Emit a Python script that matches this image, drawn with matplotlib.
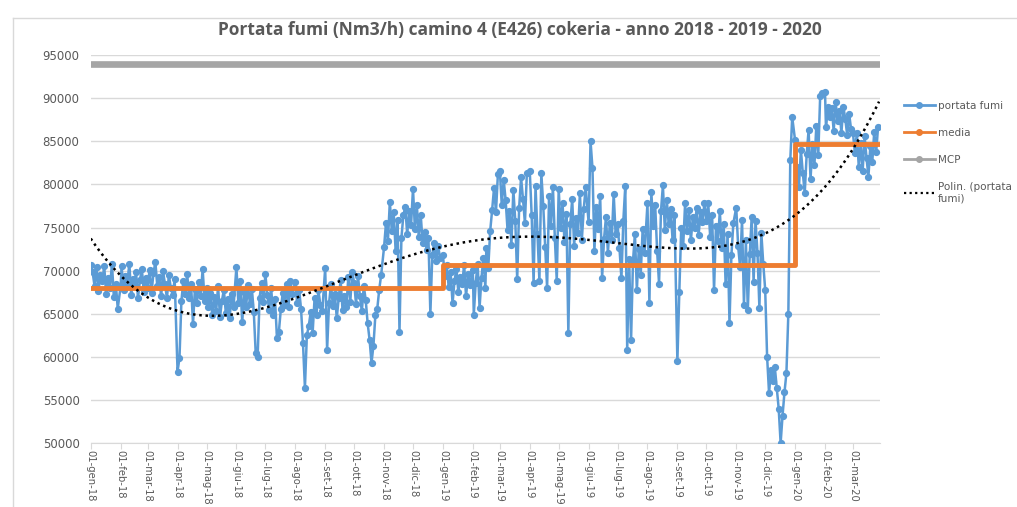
import numpy as np
import pandas as pd
import matplotlib

matplotlib.use("Agg")
import matplotlib.pyplot as plt
from matplotlib.lines import Line2D

MESI = ["gen", "feb", "mar", "apr", "mag", "giu", "lug", "ago", "set", "ott", "nov", "dic"]

# portata fumi (valori per mese, distribuiti nei giorni del mese)
portata_2018 = [
    [70600, 69800, 68200, 70400, 67600, 69500, 68800, 70500, 67300, 69200, 68000, 70800, 66900, 68500, 65600],
    [68200, 70500, 67800, 69400, 68600, 70800, 67200, 69000, 68300, 69800, 66800, 68900, 70200, 67500, 69200],
    [68000, 70100, 67400, 69700, 71000, 68200, 69300, 67000, 69900, 68400, 66800, 69500, 68000, 67200, 69000],
    [58300, 59900, 66500, 68800, 67300, 69600, 66800, 68400, 63800, 67900, 66200, 68700, 67000, 70200, 66500],
    [68000, 65800, 67400, 64800, 66900, 65300, 68200, 64600, 66500, 67800, 65100, 66700, 64500, 67300, 65800],
    [70400, 66300, 68800, 64000, 67500, 65800, 68300, 66100, 67900, 65200, 60400, 60000, 66800, 68600, 66400],
    [69600, 67200, 65400, 68000, 64800, 66700, 62200, 62900, 65500, 67400, 66000, 68500, 65800, 68800, 67300],
    [68700, 66200, 67800, 65500, 61600, 56400, 62500, 63600, 65200, 62800, 66800, 64900, 67700, 66000, 65300],
    [70300, 60800, 66200, 68400, 65900, 67300, 64500, 66800, 68900, 65400, 67000, 65800, 69300, 66400, 69800],
    [68600, 66100, 69400, 67000, 65300, 68200, 66600, 63900, 62000, 59300, 61300, 64800, 65600, 67800, 69500],
    [72700, 75500, 73400, 78000, 74600, 76800, 72300, 75900, 62900, 73800, 76400, 77400, 74200, 76900, 75300],
    [79500, 74800, 77600, 73900, 76500, 73200, 74500, 72400, 73800, 65000, 71800, 73200, 71100, 72900, 71500],
]
portata_2019 = [
    [71800, 69400, 70600, 68100, 69800, 66200, 68800, 70200, 67500, 69300, 68400, 70700, 67000, 69600, 68300],
    [70100, 64900, 68600, 70800, 65700, 69200, 71500, 68000, 72600, 70300, 74600, 77000, 79600, 76800, 81200],
    [81600, 77600, 80500, 78200, 74700, 76900, 73000, 79400, 75800, 69000, 77300, 80800, 78300, 75500, 81300],
    [81600, 76400, 68600, 79800, 74200, 68800, 81300, 77500, 72700, 68000, 78600, 75200, 79700, 73800, 68800],
    [79500, 74900, 77800, 73300, 76600, 62800, 75400, 78300, 72900, 76100, 74400, 79000, 73600, 77200, 79700],
    [75600, 85000, 81900, 72300, 77400, 74800, 78600, 69200, 73700, 76200, 72100, 75500, 73600, 78900, 74200],
    [75400, 72600, 69100, 75800, 79800, 60800, 71400, 61900, 71100, 74300, 67700, 72500, 69500, 74800, 72000],
    [77800, 66200, 79100, 75200, 77600, 72300, 68500, 76900, 79900, 74700, 78200, 75400, 77100, 73600, 76500],
    [59500, 67500, 75000, 72800, 77800, 74600, 77000, 73500, 76200, 75000, 77300, 74100, 76800, 75600, 77800],
    [75800, 77800, 73900, 76500, 67700, 75200, 73400, 76900, 72600, 75400, 68400, 74300, 63900, 71800, 75500],
    [77300, 72800, 70400, 75900, 66000, 73500, 65400, 71900, 76200, 68700, 75800, 72100, 65700, 74400, 70800],
    [67800, 60000, 55800, 58500, 57200, 58800, 56400, 54000, 50000, 53200, 55900, 58100, 65000, 82800, 87800],
]
portata_2020 = [
    [85100, 82000, 79700, 84000, 81300, 79000, 83500, 86300, 80600, 84700, 82200, 86800, 83400, 90300, 90600],
    [90700, 86600, 89000, 87800, 88900, 86200, 89600, 87300, 88500, 86000, 89000, 87600, 85700, 88200, 86400],
    [85900, 83600, 86000, 82000, 84800, 81500, 85600, 83100, 80900, 84500, 82600, 86100, 83700, 86700],
]
anni = [2018, 2019, 2020]
media = [68000, 70600, 84700]
mcp = 94000
fine_dati = pd.Timestamp("2020-03-28")

BLU = "#5B9BD5"
ARANCIO = "#ED7D31"
GRIGIO = "#A5A5A5"
TESTO = "#595959"

date, valori = [], []
for anno, mesi in zip(anni, [portata_2018, portata_2019, portata_2020]):
    for m, vals in enumerate(mesi, start=1):
        inizio = pd.Timestamp(anno, m, 1)
        fine = min(inizio + pd.offsets.MonthEnd(0), fine_dati)
        giorni = (fine - inizio).days + 1
        for i, v in enumerate(vals):
            date.append(inizio + pd.Timedelta(days=int(i * giorni / len(vals))))
            valori.append(v)
date = pd.DatetimeIndex(date)
valori = np.array(valori, dtype=float)
inizio_dati = date[0]

# linea di tendenza polinomiale (come Excel)
t = (date - inizio_dati).days.values
poly = np.polynomial.Polynomial.fit(t, valori, 4)
tt = np.arange(0, (fine_dati - inizio_dati).days + 1)
date_tr = inizio_dati + pd.to_timedelta(tt, unit="D")

fig = plt.figure(figsize=(10.17, 5.07), dpi=100)
ax = fig.add_axes([0.0892, 0.126, 0.7761, 0.7655])

ax.plot([inizio_dati, fine_dati], [mcp, mcp], color=GRIGIO, lw=4.8, solid_capstyle="round", zorder=2)
ax.plot(date, valori, color=BLU, lw=1.8, marker="o", ms=4.2, zorder=3)
step_x = [pd.Timestamp(a, 1, 1) for a in anni] + [fine_dati]
step_y = media + [media[-1]]
ax.step(step_x, step_y, where="post", color=ARANCIO, lw=3.5, zorder=4)
ax.plot(date_tr, poly(tt), color="black", lw=1.8, ls=(0, (1, 1.5)), zorder=5)

ax.set_ylim(50000, 95000)
ax.set_yticks(np.arange(50000, 95001, 5000))
ax.set_xlim(inizio_dati, fine_dati + pd.Timedelta(days=1))
tick_mesi = pd.date_range("2018-01-01", "2020-03-01", freq="MS")
ax.set_xticks(tick_mesi)
ax.set_xticklabels([f"01-{MESI[d.month - 1]}-{d.year % 100:02d}" for d in tick_mesi],
                   rotation=-90, fontsize=7.2, color=TESTO)
ax.tick_params(axis="y", length=0, labelsize=8.5, labelcolor=TESTO, pad=8)
ax.tick_params(axis="x", length=4, color="#D9D9D9", pad=1)
ax.grid(axis="y", color="#D9D9D9", lw=1)
ax.set_axisbelow(True)
for s in ["top", "right", "left"]:
    ax.spines[s].set_visible(False)
ax.spines["bottom"].set_color("#D9D9D9")

fig.text(0.511, 0.94, "Portata fumi (Nm3/h) camino 4 (E426) cokeria - anno 2018 - 2019 - 2020",
         ha="center", va="center", fontsize=12.5, fontweight="bold", color=TESTO, family="Open Sans")

# bordo del grafico
fig.add_artist(Line2D([13 / 1017, 13 / 1017], [0, 1 - 18 / 507], color="#D9D9D9", lw=1))
fig.add_artist(Line2D([13 / 1017, 1], [1 - 18 / 507, 1 - 18 / 507], color="#D9D9D9", lw=1))

handles = [
    Line2D([], [], color=BLU, lw=2, marker="o", ms=4),
    Line2D([], [], color=ARANCIO, lw=2, marker="o", ms=4),
    Line2D([], [], color=GRIGIO, lw=2, marker="o", ms=4),
    Line2D([], [], color="black", lw=1.6, ls=(0, (1, 1.5))),
]
fig.legend(handles, ["portata fumi", "media", "MCP", "Polin. (portata\nfumi)"],
           loc="upper left", bbox_to_anchor=(0.88, 0.82), frameon=False,
           fontsize=7.5, labelcolor=TESTO, handlelength=2.9, handletextpad=0.3, labelspacing=1.65)

fig.savefig("out.png", dpi=100)
